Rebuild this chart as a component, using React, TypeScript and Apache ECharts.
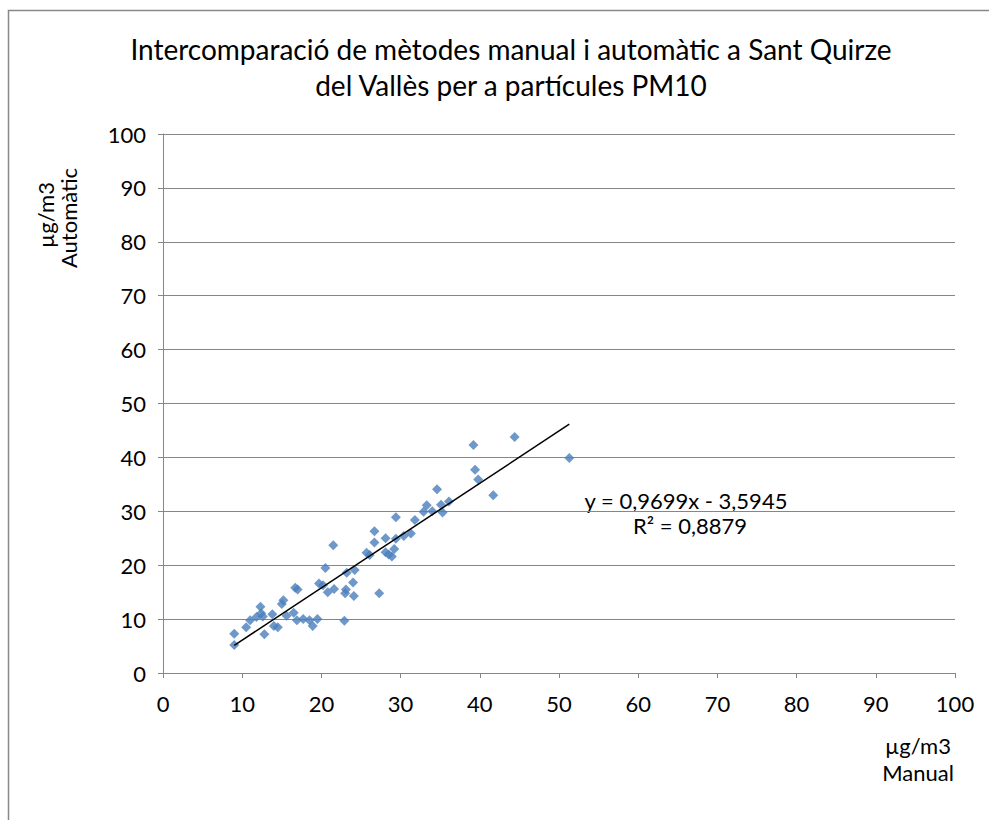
import React, { useEffect, useRef } from "react";
import * as echarts from "echarts";

const TITLE = "Intercomparació de mètodes manual i automàtic a Sant Quirze\ndel Vallès per a partícules PM10";
const X_NAME = ["µg/m3", "Manual"];
const Y_NAME = ["µg/m3", "Automàtic"];

const manual: number[] = [
  9.0, 9.0, 10.5, 11.0, 11.8, 12.3, 12.4, 12.6, 12.8, 13.8, 14.0, 14.5, 15.0, 15.2, 15.6, 16.5,
  16.7, 17.0, 16.9, 17.7, 18.5, 18.9, 19.5, 19.7, 20.2, 20.5, 20.8, 21.5, 21.6, 22.9, 23.0, 23.1,
  23.2, 24.0, 24.1, 24.2, 25.7, 26.1, 26.7, 26.7, 27.3, 28.1, 28.1, 28.5, 28.9, 29.2, 29.4, 29.4,
  30.4, 31.3, 31.8, 32.9, 33.3, 34.0, 34.6, 35.1, 35.3, 36.1, 39.2, 39.4, 39.8, 41.7, 44.4, 51.3,
];
const automatic: number[] = [
  5.2, 7.3, 8.5, 9.8, 10.4, 12.3, 11.1, 10.5, 7.2, 10.9, 8.7, 8.5, 12.8, 13.5, 10.6, 11.2,
  15.8, 15.5, 9.8, 10.0, 9.8, 8.7, 10.0, 16.6, 16.3, 19.5, 15.0, 23.7, 15.6, 9.7, 14.8, 15.5,
  18.6, 16.8, 14.3, 19.1, 22.3, 21.9, 24.2, 26.3, 14.8, 25.0, 22.4, 22.0, 21.6, 23.0, 28.9, 24.9,
  25.4, 25.9, 28.4, 29.9, 31.1, 30.0, 34.1, 31.2, 29.8, 31.8, 42.3, 37.7, 35.9, 33.0, 43.8, 39.9,
];
const slope = 0.9699;
const intercept = -3.5945;
const trendRange: number[] = [9.0, 51.3];
const EQ_TEXT = "y = 0,9699x - 3,5945";
const R2_TEXT = "R² = 0,8879";

const FONT = "Lato, 'Open Sans', sans-serif";

export default function App() {
  const ref = useRef<HTMLDivElement>(null);
  useEffect(() => {
    if (!ref.current) return;
    const chart = echarts.init(ref.current, null, { renderer: "svg" });
    const points = manual.map((x, i) => [x, automatic[i]]);
    const trend = trendRange.map((x) => [x, slope * x + intercept]);
    chart.setOption({
      animation: false,
      backgroundColor: "#ffffff",
      textStyle: { fontFamily: FONT },
      title: {
        text: TITLE,
        left: 506,
        textAlign: "center",
        top: 26,
        textStyle: { fontFamily: FONT, fontSize: 28, fontWeight: "normal", color: "#000", lineHeight: 36 },
      },
      grid: { left: 163, right: 34, top: 134, bottom: 147, containLabel: false },
      xAxis: {
        type: "value",
        min: 0,
        max: 100,
        interval: 10,
        axisLine: { show: true, lineStyle: { color: "#868686", width: 1 } },
        axisTick: { show: true, length: 5, lineStyle: { color: "#868686" } },
        splitLine: { show: false },
        axisLabel: { fontFamily: FONT, fontSize: 22, color: "#000", margin: 19 },
      },
      yAxis: {
        type: "value",
        min: 0,
        max: 100,
        interval: 10,
        axisLine: { show: true, lineStyle: { color: "#868686", width: 1 } },
        axisTick: { show: true, length: 5, lineStyle: { color: "#868686" } },
        splitLine: { show: true, lineStyle: { color: "#868686", width: 1 } },
        axisLabel: { fontFamily: FONT, fontSize: 22, color: "#000", margin: 17 },
      },
      series: [
        {
          type: "scatter",
          data: points,
          symbol: "diamond",
          symbolSize: 10,
          itemStyle: { color: "#4A7EBB" },
          z: 3,
        },
        {
          type: "line",
          data: trend,
          symbol: "none",
          lineStyle: { color: "#000", width: 1.5 },
          z: 4,
        },
      ],
      graphic: [
        {
          type: "rect",
          shape: { x: 8.5, y: 10.5, width: 1100, height: 1000 },
          style: { fill: "none", stroke: "#888", lineWidth: 1.5 },
          silent: true,
          z: -1,
        },
        {
          type: "text",
          x: 918,
          y: 745,
          style: { text: X_NAME[0], font: `22px ${FONT}`, fill: "#000", align: "center", verticalAlign: "middle" },
        },
        {
          type: "text",
          x: 918,
          y: 772,
          style: { text: X_NAME[1], font: `22px ${FONT}`, fill: "#000", align: "center", verticalAlign: "middle" },
        },
        {
          type: "text",
          x: 45,
          y: 215,
          rotation: Math.PI / 2,
          style: { text: Y_NAME[0], font: `22px ${FONT}`, fill: "#000", align: "center", verticalAlign: "middle" },
        },
        {
          type: "text",
          x: 68,
          y: 218,
          rotation: Math.PI / 2,
          style: { text: Y_NAME[1], font: `22px ${FONT}`, fill: "#000", align: "center", verticalAlign: "middle" },
        },
        {
          type: "text",
          x: 686,
          y: 500,
          style: { text: EQ_TEXT, font: `22px ${FONT}`, fill: "#000", align: "center", verticalAlign: "middle" },
        },
        {
          type: "text",
          x: 690,
          y: 525,
          style: { text: R2_TEXT, font: `22px ${FONT}`, fill: "#000", align: "center", verticalAlign: "middle" },
        },
      ],
    });
    return () => chart.dispose();
  }, []);
  return (
    <div
      ref={ref}
      style={{ position: "fixed", left: 0, top: 0, width: 989, height: 820 }}
    />
  );
}
